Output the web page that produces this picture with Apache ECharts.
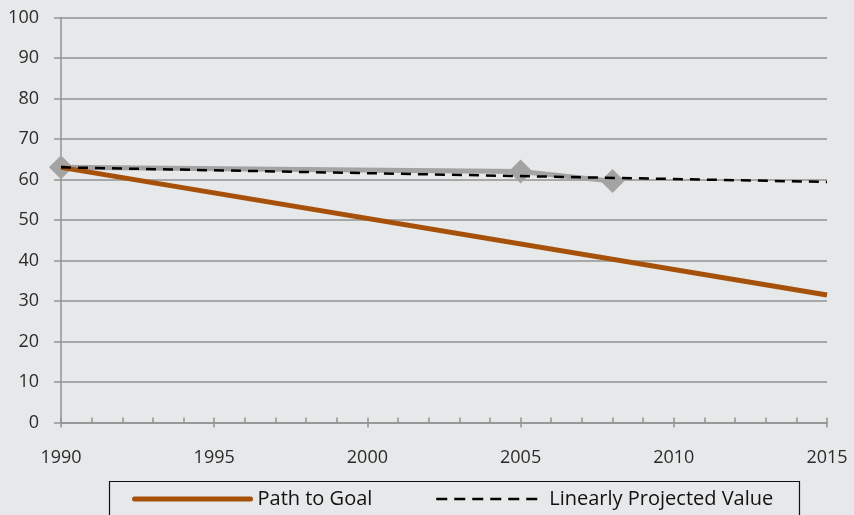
<!DOCTYPE html>
<html>
<head>
<meta charset="utf-8">
<script src="https://cdn.jsdelivr.net/npm/echarts@6/dist/echarts.min.js"></script>
<style>
  html, body { margin: 0; padding: 0; background: #e7e8e9; }
  #chart { width: 854px; height: 515px; }
</style>
</head>
<body>
<div id="chart"></div>
<script>
// Observed values
const actualYears = [1990, 2005, 2008];
const actualValues = [63, 62, 59.6];

// Target trajectory
const pathYears = [1990, 2015];
const pathValues = [63, 31.5];

// Linear projection of the observed trend
const projYears = [1990, 2015];
const projValues = [63, 59.4];

const yTicks = [0, 10, 20, 30, 40, 50, 60, 70, 80, 90, 100];
const xTicks = [1990, 1995, 2000, 2005, 2010, 2015];

const pairs = (xs, ys) => xs.map((x, i) => [x, ys[i]]);

const FONT = '"Open Sans", "Noto Sans", sans-serif';
const TEXT = '#2b2b2b';
const AXIS = '#939393';
const BROWN = '#a5510a';

const chart = echarts.init(document.getElementById('chart'));

chart.setOption({
  backgroundColor: '#e7e8e9',
  animation: false,
  textStyle: { fontFamily: FONT },
  grid: { left: 61, right: 27, top: 17.5, bottom: 92.5 },
  xAxis: [
    {
      // labelled axis with major ticks below the line
      type: 'value',
      min: xTicks[0],
      max: xTicks[xTicks.length - 1],
      interval: 5,
      axisLine: { show: true, lineStyle: { color: AXIS, width: 1.5 } },
      axisTick: { show: true, inside: false, length: 5, lineStyle: { color: AXIS, width: 1.5 } },
      axisLabel: {
        color: TEXT, fontSize: 18, margin: 26, fontFamily: FONT,
        formatter: (v) => String(v)
      },
      splitLine: { show: false }
    },
    {
      // yearly minor ticks sitting inside the plot
      type: 'value',
      position: 'bottom',
      min: xTicks[0],
      max: xTicks[xTicks.length - 1],
      interval: 1,
      axisLine: { show: false },
      axisTick: { show: true, inside: true, length: 5, lineStyle: { color: AXIS, width: 1.5 } },
      axisLabel: { show: false },
      splitLine: { show: false }
    }
  ],
  yAxis: {
    type: 'value',
    min: yTicks[0],
    max: yTicks[yTicks.length - 1],
    interval: 10,
    axisLine: { show: true, lineStyle: { color: AXIS, width: 1.5 } },
    axisTick: { show: true, inside: false, length: 7, lineStyle: { color: AXIS, width: 1.5 } },
    axisLabel: { color: TEXT, fontSize: 18, margin: 22, fontFamily: FONT },
    splitLine: { show: true, lineStyle: { color: AXIS, width: 1.5 } }
  },
  legend: [
    {
      left: 132,
      top: 489,
      padding: 0,
      itemWidth: 116,
      itemHeight: 18,
      itemGap: 0,
      data: ['Path to Goal'],
      itemStyle: { opacity: 0 },
      lineStyle: { color: BROWN, width: 5, cap: 'round' },
      textStyle: { color: '#111', fontSize: 20, fontFamily: FONT, padding: [0, 0, 0, 2] }
    },
    {
      left: 435,
      top: 489,
      padding: 0,
      itemWidth: 102,
      itemHeight: 18,
      itemGap: 0,
      data: ['Linearly Projected Value'],
      itemStyle: { opacity: 0 },
      lineStyle: { color: '#000', width: 2.5, type: [11, 7] },
      textStyle: { color: '#111', fontSize: 20, fontFamily: FONT, padding: [0, 0, 0, 6] }
    }
  ],
  graphic: [
    {
      type: 'rect',
      left: 107,
      top: 479,
      shape: { width: 690, height: 50 },
      style: { fill: 'none', stroke: '#111', lineWidth: 1.2 },
      silent: true
    }
  ],
  series: [
    {
      name: 'Actual',
      type: 'line',
      data: pairs(actualYears, actualValues),
      symbol: 'diamond',
      symbolSize: 24,
      lineStyle: { color: '#a3a3a3', width: 5 },
      itemStyle: { color: '#a3a3a3' },
      z: 2
    },
    {
      name: 'Path to Goal',
      type: 'line',
      data: pairs(pathYears, pathValues),
      showSymbol: false,
      symbol: 'none',
      lineStyle: { color: BROWN, width: 5 },
      itemStyle: { color: BROWN },
      z: 3
    },
    {
      name: 'Linearly Projected Value',
      type: 'line',
      data: pairs(projYears, projValues),
      showSymbol: false,
      symbol: 'none',
      lineStyle: { color: '#000', width: 2.5, type: [10, 7] },
      itemStyle: { color: '#000' },
      z: 4
    }
  ]
});
</script>
</body>
</html>
